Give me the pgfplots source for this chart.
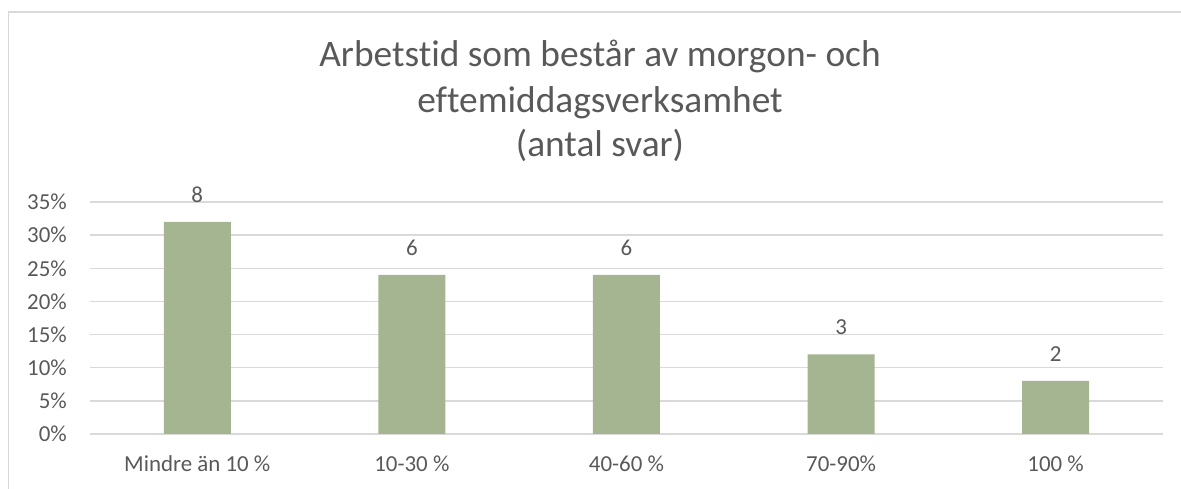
\documentclass[border=0pt]{standalone}
\usepackage{fontspec}
\setmainfont{Carlito}[Ligatures=NoCommon]
\usepackage{pgfplots}
\pgfplotsset{compat=1.18}
\definecolor{barc}{HTML}{A5B592}
\definecolor{txt}{HTML}{595959}
\definecolor{grd}{HTML}{D9D9D9}
\begin{document}
\begin{tikzpicture}[x=1bp,y=1bp]
\useasboundingbox (-90,-55) rectangle (1091,434);
\draw[grd, line width=1.6bp] (-81.5,-60) -- (-81.5,422) -- (1100,422);
\begin{axis}[
  at={(0,0)}, anchor=south west,
  scale only axis, width=1073bp, height=232bp,
  xmin=-0.5, xmax=4.5, ymin=0, ymax=35,
  ytick={0,5,...,35},
  yticklabels={0\%,5\%,10\%,15\%,20\%,25\%,30\%,35\%},
  xtick={0,1,2,3,4},
  xticklabels={Mindre än 10 \%, 10-30 \%, 40-60 \%, 70-90\%, 100 \%},
  ymajorgrids, grid style={grd, line width=1.3bp},
  axis line style={draw=none},
  major tick length=0pt,
  tick label style={font=\fontsize{23}{27}\selectfont, text=txt},
  yticklabel style={anchor=east, inner sep=0pt, xshift=-23bp},
  xticklabel style={anchor=base, inner sep=0pt, yshift=-37.7bp},
  ybar, bar width=67bp, bar shift=0pt,
  point meta=explicit symbolic,
  nodes near coords={\pgfplotspointmeta},
  every node near coord/.append style={font=\fontsize{23}{27}\selectfont, text=txt, anchor=base, inner sep=0pt, yshift=19.5bp},
  clip=false,
]
\addplot[fill=barc, draw=none] table[x=x, y=y, meta=n] {
x y n
0 32 8
1 24 6
2 24 6
3 12 3
4 8 2
};
\end{axis}
\node[font=\fontsize{37.5}{45}\selectfont, text=txt, anchor=base] at (510,367) {Arbetstid som består av morgon- och};
\node[font=\fontsize{37.5}{45}\selectfont, text=txt, anchor=base] at (510,321) {eftemiddagsverksamhet};
\node[font=\fontsize{37.5}{45}\selectfont, text=txt, anchor=base] at (510,277) {(antal svar)};
\end{tikzpicture}
\end{document}
